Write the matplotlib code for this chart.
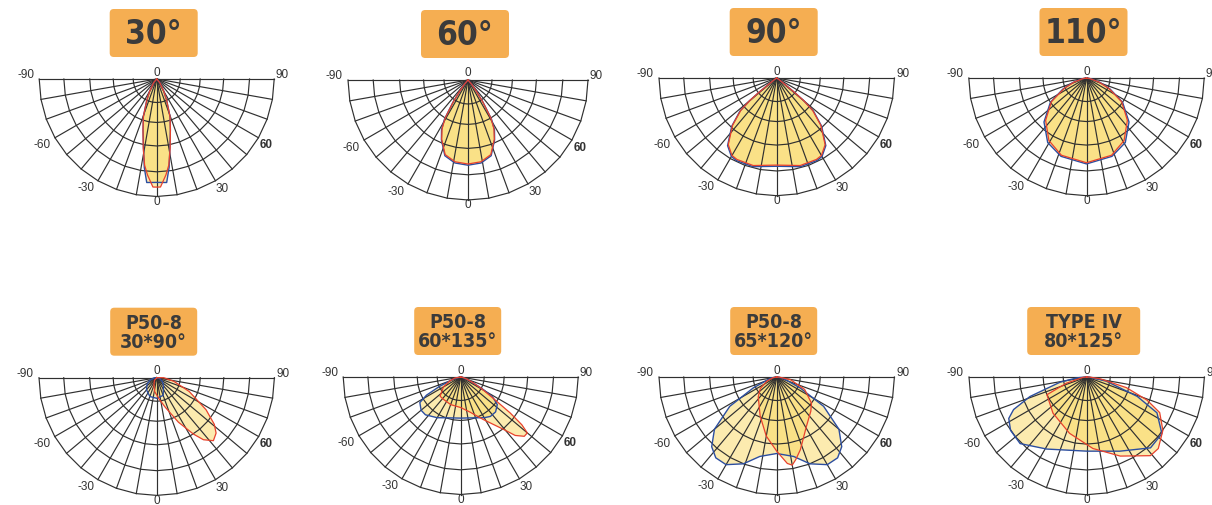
import numpy as np
import matplotlib
matplotlib.use("Agg")
import matplotlib.pyplot as plt
from matplotlib.patches import FancyBboxPatch

W, H = 1212, 505

# panel titles
titles = ["30°", "60°", "90°", "110°",
          "P50-8\n30*90°", "P50-8\n60*135°", "P50-8\n65*120°", "TYPE IV\n80*125°"]

# light curves: angle in degrees (0 = straight down, + to the right), relative intensity
blue_30_ang = [-50, -40, -30, -25, -19.5, -15, -11, -8, -5.5, 0, 5.5, 8, 11, 15, 19.5, 25, 30, 40, 50]
blue_30_val = [0, 0.04, 0.12, 0.2, 0.34, 0.45, 0.59, 0.76, 0.885, 0.88, 0.885, 0.76, 0.59, 0.45, 0.34, 0.2, 0.12, 0.04, 0]
red_30_ang = [-50, -40, -30, -25, -19.5, -15, -11, -8, -5.5, -2, 0, 2, 5.5, 8, 11, 15, 19.5, 25, 30, 40, 50]
red_30_val = [0, 0.04, 0.12, 0.2, 0.34, 0.45, 0.6, 0.74, 0.82, 0.92, 0.92, 0.92, 0.82, 0.74, 0.6, 0.45, 0.34, 0.2, 0.12, 0.04, 0]

blue_60_ang = [-45, -40, -36, -34, -31, -28, -24, -17, -9, 0, 9, 17, 24, 28, 31, 34, 36, 40, 45]
blue_60_val = [0, 0.05, 0.13, 0.225, 0.38, 0.47, 0.545, 0.66, 0.70, 0.71, 0.70, 0.66, 0.545, 0.47, 0.38, 0.225, 0.13, 0.05, 0]
red_60_ang = [-45, -40, -36, -34, -31, -28, -24, -17, -9, 0, 9, 17, 24, 28, 31, 34, 36, 40, 45]
red_60_val = [0, 0.05, 0.13, 0.22, 0.37, 0.46, 0.54, 0.65, 0.69, 0.70, 0.69, 0.65, 0.54, 0.46, 0.37, 0.22, 0.13, 0.05, 0]

blue_90_ang = [-60, -55, -52, -51, -50, -48, -43, -36, -30, -26, -15, 0, 15, 26, 30, 36, 43, 48, 50, 51, 52, 55, 60]
blue_90_val = [0, 0.02, 0.09, 0.2, 0.3, 0.42, 0.56, 0.71, 0.77, 0.78, 0.78, 0.75, 0.78, 0.78, 0.77, 0.71, 0.56, 0.42, 0.3, 0.2, 0.09, 0.02, 0]
red_90_ang = [-60, -55, -52, -51, -50, -48, -43, -36, -30, -26, -15, 0, 15, 26, 30, 36, 43, 48, 50, 51, 52, 55, 60]
red_90_val = [0, 0.02, 0.09, 0.2, 0.3, 0.41, 0.55, 0.70, 0.76, 0.77, 0.77, 0.74, 0.77, 0.77, 0.76, 0.70, 0.55, 0.41, 0.3, 0.2, 0.09, 0.02, 0]

blue_110_ang = [-90, -80, -72, -65, -56, -44, -31, -18, 0, 18, 31, 44, 56, 65, 72, 80, 90]
blue_110_val = [0, 0.04, 0.12, 0.22, 0.37, 0.52, 0.64, 0.70, 0.73, 0.70, 0.64, 0.52, 0.37, 0.22, 0.12, 0.04, 0]
red_110_ang = [-90, -80, -72, -65, -56, -44, -31, -18, 0, 18, 31, 44, 56, 65, 72, 80, 90]
red_110_val = [0, 0.03, 0.11, 0.21, 0.36, 0.50, 0.62, 0.69, 0.72, 0.69, 0.62, 0.50, 0.36, 0.21, 0.11, 0.03, 0]

blue_3090_ang = [-85, -70, -55, -40, -20, 0, 20, 40, 55, 70, 85]
blue_3090_val = [0.02, 0.06, 0.10, 0.135, 0.17, 0.175, 0.16, 0.09, 0.06, 0.03, 0.01]
red_3090_ang = [-40, -20, -8, 6, 16, 26, 33, 37, 42, 47, 51, 57, 67, 78, 90]
red_3090_val = [0.03, 0.07, 0.12, 0.18, 0.26, 0.42, 0.57, 0.66, 0.72, 0.69, 0.63, 0.50, 0.30, 0.15, 0.06]

blue_60135_ang = [-90, -75, -66, -62, -58, -50, -43, -30, -15, 0, 15, 30, 37, 45, 53, 58, 61, 66, 75, 90]
blue_60135_val = [0, 0.06, 0.2, 0.33, 0.41, 0.44, 0.44, 0.40, 0.36, 0.35, 0.36, 0.40, 0.42, 0.42, 0.39, 0.32, 0.22, 0.1, 0.03, 0]
red_60135_ang = [-80, -70, -60, -47, -37, -20, 0, 15, 28, 39, 43, 47, 50, 52, 54, 57, 61, 65, 72, 85]
red_60135_val = [0.05, 0.10, 0.17, 0.24, 0.24, 0.25, 0.26, 0.31, 0.41, 0.57, 0.68, 0.74, 0.74, 0.66, 0.52, 0.32, 0.2, 0.12, 0.05, 0.01]

blue_65120_ang = [-90, -80, -65, -58, -50, -43, -37, -30, -21, -12, 0, 12, 21, 30, 37, 43, 50, 58, 65, 80, 90]
blue_65120_val = [0, 0.05, 0.22, 0.47, 0.69, 0.81, 0.86, 0.86, 0.79, 0.69, 0.65, 0.69, 0.79, 0.86, 0.86, 0.81, 0.69, 0.47, 0.22, 0.05, 0]
red_65120_ang = [-88, -80, -67, -55, -43, -23, -10, 0, 7, 10, 13, 18, 31, 45, 53, 66, 79, 88]
red_65120_val = [0.0, 0.03, 0.09, 0.17, 0.23, 0.36, 0.51, 0.63, 0.74, 0.76, 0.72, 0.65, 0.49, 0.41, 0.37, 0.26, 0.12, 0.02]

blue_80125_ang = [-88, -85, -79, -71, -66, -62, -55, -45, -29, 0, 24, 42, 53, 63, 69, 78, 88]
blue_80125_val = [0.02, 0.08, 0.23, 0.51, 0.68, 0.75, 0.79, 0.80, 0.70, 0.63, 0.69, 0.81, 0.80, 0.67, 0.46, 0.17, 0.02]
red_80125_ang = [-85, -73, -66, -43, -17, 5, 23, 39, 45, 55, 64, 69, 75, 82, 88]
red_80125_val = [0.03, 0.18, 0.37, 0.42, 0.50, 0.61, 0.73, 0.86, 0.86, 0.79, 0.69, 0.55, 0.35, 0.12, 0.03]

curves = [
    (blue_30_ang, blue_30_val, red_30_ang, red_30_val),
    (blue_60_ang, blue_60_val, red_60_ang, red_60_val),
    (blue_90_ang, blue_90_val, red_90_ang, red_90_val),
    (blue_110_ang, blue_110_val, red_110_ang, red_110_val),
    (blue_3090_ang, blue_3090_val, red_3090_ang, red_3090_val),
    (blue_60135_ang, blue_60135_val, red_60135_ang, red_60135_val),
    (blue_65120_ang, blue_65120_val, red_65120_ang, red_65120_val),
    (blue_80125_ang, blue_80125_val, red_80125_ang, red_80125_val),
]

# grid
ring_levels = [0.2, 0.37, 0.57, 0.79, 1.0]
spoke_angles = list(range(-90, 91, 10))

# layout (pixels): centre of each diagram, radius, title box width
centers = [(156.7, 79), (468, 80), (776.7, 78), (1086.5, 78),
           (156.7, 377.7), (460.7, 377), (776.7, 377), (1086.7, 377)]
radius_px = [117.5, 120, 117.7, 117.7, 117.7, 117.5, 117.7, 117.7]
box_w_px = [88, 88, 88, 88, 87, 87, 87, 113]

BOX = "#F5AE52"
TXT = "#3b3b3b"
GRID = "#303030"
FILL = "#FAD860"
BLUE = "#2C4EA0"
RED = "#E8412C"

TITLE_FONT = ["DejaVu Sans"]
TICK_FONT = ["Liberation Sans", "DejaVu Sans"]


def to_xy(ang, val):
    a = np.radians(np.asarray(ang, dtype=float))
    v = np.asarray(val, dtype=float)
    return v * np.sin(a), -v * np.cos(a)


fig = plt.figure(figsize=(W / 100, H / 100), dpi=100)

XL, XR, YB, YT = -1.32, 1.32, -1.2, 0.7

for i in range(8):
    cx, cy = centers[i]
    R = radius_px[i]
    ax = fig.add_axes([(cx + XL * R) / W, 1 - (cy - YB * R) / H,
                       (XR - XL) * R / W, (YT - YB) * R / H])
    ax.set_xlim(XL, XR)
    ax.set_ylim(YB, YT)
    ax.axis("off")

    # grid
    for a in spoke_angles:
        x, y = to_xy([a, a], [0, 1])
        ax.plot(x, y, color=GRID, lw=0.85, zorder=2)
    for rr in ring_levels:
        x, y = to_xy(spoke_angles, [rr] * len(spoke_angles))
        ax.plot(x, y, color=GRID, lw=0.85, zorder=2)

    # light distribution
    b_ang, b_val, r_ang, r_val = curves[i]
    bx, by = to_xy(b_ang, b_val)
    rx, ry = to_xy(r_ang, r_val)
    bx = np.r_[0, bx, 0]; by = np.r_[0, by, 0]
    rx = np.r_[0, rx, 0]; ry = np.r_[0, ry, 0]
    ax.fill(bx, by, color=FILL, alpha=0.5, lw=0, zorder=1)
    ax.fill(rx, ry, color=FILL, alpha=0.5, lw=0, zorder=1)
    ax.plot(bx, by, color=BLUE, lw=1.0, zorder=3)
    ax.plot(rx, ry, color=RED, lw=0.9, zorder=4)

    # angle labels
    kw = dict(fontsize=8.5, color="#333333", family=TICK_FONT, ha="center", va="center")
    ax.text(-1.115, 0.03, "-90", **kw)
    ax.text(1.07, 0.03, "90", **kw)
    ax.text(0, 0.055, "0", **kw)
    ax.text(-0.978, -0.565, "-60", **kw)
    ax.text(0.932, -0.565, "60", fontweight="bold", **kw)
    ax.text(-0.60, -0.93, "-30", **kw)
    ax.text(0.558, -0.935, "30", **kw)
    ax.text(0, -1.045, "0", **kw)

    # title box
    bw = box_w_px[i] / R
    bh = 48 / R
    bxc = -3 / R
    byc = 46 / R
    ax.add_patch(FancyBboxPatch((bxc - bw / 2, byc - bh / 2), bw, bh,
                                boxstyle="round,pad=0,rounding_size=0.035",
                                fc=BOX, ec="none", clip_on=False, zorder=5))
    if i < 4:
        ax.text(bxc, byc - 0.01, titles[i], fontsize=24, fontweight="bold", color=TXT,
                family=TITLE_FONT, fontstretch="condensed",
                ha="center", va="center", zorder=6)
    else:
        ax.text(bxc, byc - 0.01, titles[i], fontsize=14, fontweight="bold", color=TXT,
                family=TITLE_FONT, fontstretch="condensed",
                ha="center", va="center", linespacing=1.0, zorder=6)

fig.savefig("out.png", dpi=100, facecolor="white")
